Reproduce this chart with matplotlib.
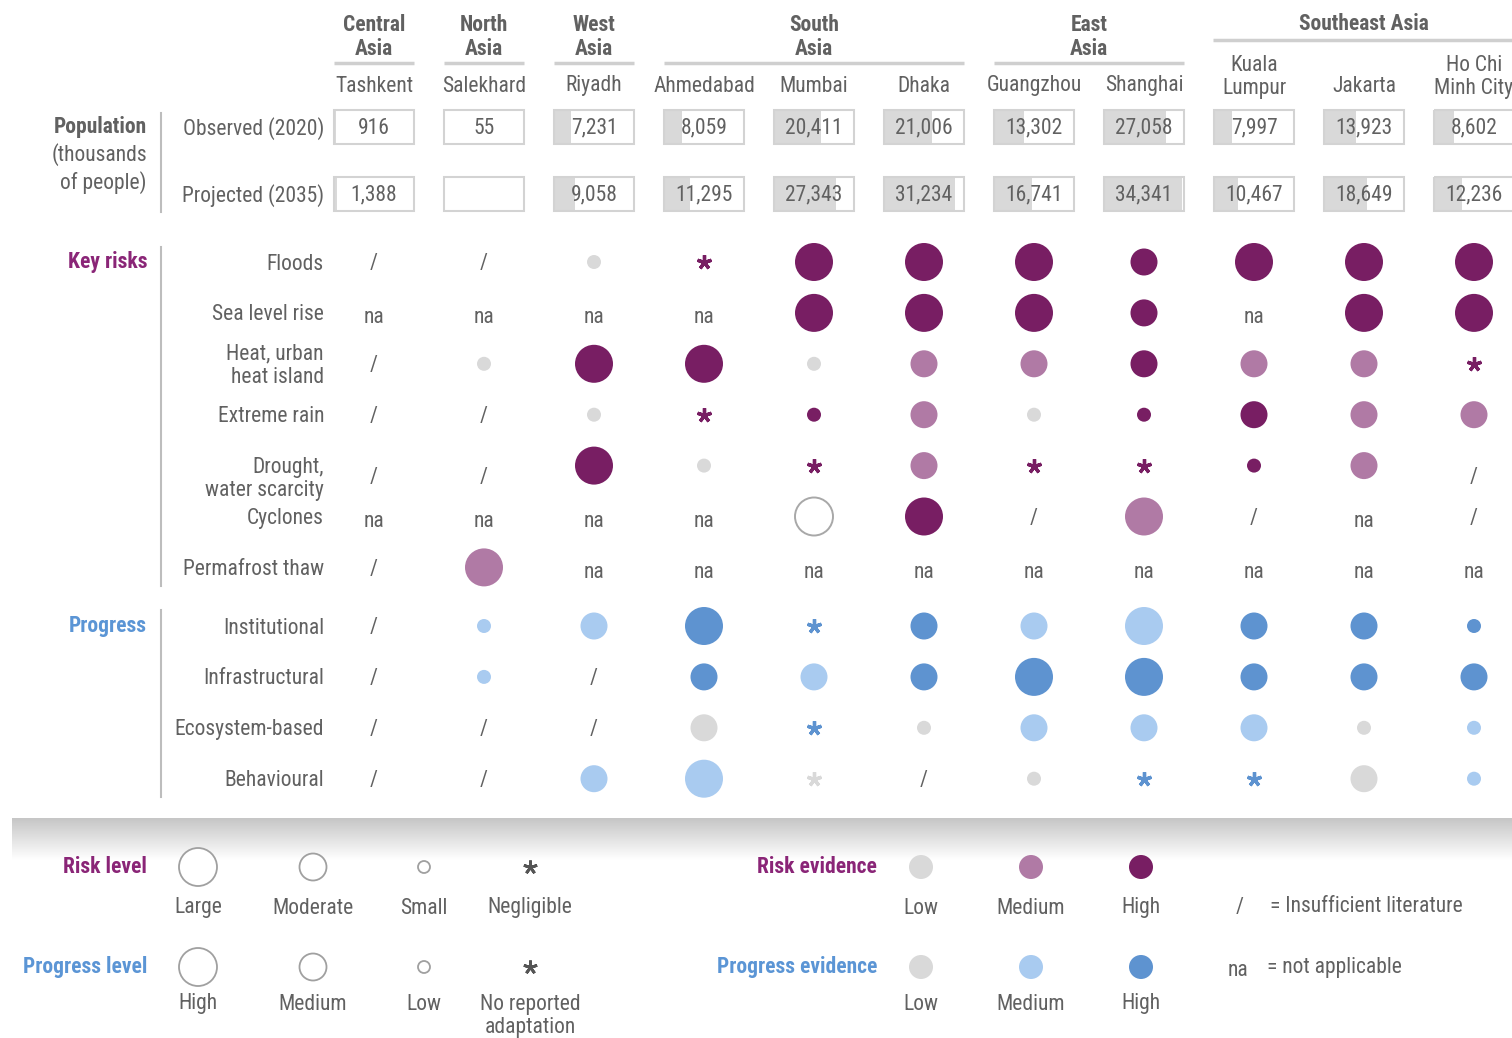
import matplotlib
matplotlib.use("Agg")
import numpy as np
import matplotlib.pyplot as plt
from matplotlib.patches import Circle, Rectangle
from matplotlib.colors import LinearSegmentedColormap

plt.rcParams["font.family"] = ["Roboto Condensed", "DejaVu Sans"]

# ─── Data ─────────────────────────────────────────────────────────────────────

CITIES = ["Tashkent", "Salekhard", "Riyadh", "Ahmedabad", "Mumbai", "Dhaka",
          "Guangzhou", "Shanghai", "Kuala\nLumpur", "Jakarta", "Ho Chi\nMinh City"]
REGIONS = [("Central\nAsia", 0, 0), ("North\nAsia", 1, 1), ("West\nAsia", 2, 2),
           ("South\nAsia", 3, 5), ("East\nAsia", 6, 7), ("Southeast Asia", 8, 10)]

POP_2020 = [916, 55, 7231, 8059, 20411, 21006, 13302, 27058, 7997, 13923, 8602]
POP_2035 = [1388, None, 9058, 11295, 27343, 31234, 16741, 34341, 10467, 18649, 12236]
POP_MAX = 35000

# cell codes: level (L large, M moderate, S small, N negligible/none, O open large)
# + evidence (l low, m medium, h high); "/" insufficient literature, "na" not applicable
RISK_LABELS = ["Floods", "Sea level rise", "Heat, urban\nheat island", "Extreme rain",
               "Drought,\nwater scarcity", "Cyclones", "Permafrost thaw"]
floods      = ["/", "/", "Sl", "Nh", "Lh", "Lh", "Lh", "Mh", "Lh", "Lh", "Lh"]
sea_level   = ["na", "na", "na", "na", "Lh", "Lh", "Lh", "Mh", "na", "Lh", "Lh"]
heat        = ["/", "Sl", "Lh", "Lh", "Sl", "Mm", "Mm", "Mh", "Mm", "Mm", "Nh"]
extreme     = ["/", "/", "Sl", "Nh", "Sh", "Mm", "Sl", "Sh", "Mh", "Mm", "Mm"]
drought     = ["/", "/", "Lh", "Sl", "Nh", "Mm", "Nh", "Nh", "Sh", "Mm", "/"]
cyclones    = ["na", "na", "na", "na", "Ol", "Lh", "/", "Lm", "/", "na", "/"]
permafrost  = ["/", "Lm", "na", "na", "na", "na", "na", "na", "na", "na", "na"]
RISKS = [floods, sea_level, heat, extreme, drought, cyclones, permafrost]

PROG_LABELS = ["Institutional", "Infrastructural", "Ecosystem-based", "Behavioural"]
institutional   = ["/", "Sm", "Mm", "Lh", "Nh", "Mh", "Mm", "Lm", "Mh", "Mh", "Sh"]
infrastructural = ["/", "Sm", "/", "Mh", "Mm", "Mh", "Lh", "Lh", "Mh", "Mh", "Mh"]
ecosystem       = ["/", "/", "/", "Ml", "Nh", "Sl", "Mm", "Mm", "Mm", "Sl", "Sm"]
behavioural     = ["/", "/", "Mm", "Lm", "Nl", "/", "Sl", "Nh", "Nh", "Ml", "Sm"]
PROGRESS = [institutional, infrastructural, ecosystem, behavioural]

# ─── Style ────────────────────────────────────────────────────────────────────

GREY_TXT = "#616161"
LOW = "#d9d9d9"
RISK_COL = {"l": LOW, "m": "#b07aa5", "h": "#781e63"}
PROG_COL = {"l": LOW, "m": "#a9cbf0", "h": "#5e93d0"}
RISK_HEAD = "#8a2577"
PROG_HEAD = "#5b95d5"
RADIUS = {"L": 19, "O": 19, "M": 13.5, "S": 7}
FS = 15.5
TXT_DY = 2  # glyph boxes sit a little high when centred

X0, DX = 374, 110
POP_Y = [127, 194]
RISK_Y0, PROG_Y0, ROW_DY = 262, 626, 50.9
LABEL_X = 324
HEAD_X = 147

fig = plt.figure(figsize=(15.12, 10.38), dpi=100)
ax = fig.add_axes([0, 0, 1, 1])
ax.set_xlim(0, 1512)
ax.set_ylim(1038, 0)
ax.axis("off")


def col_x(i):
    return X0 + i * DX


def txt(x, y, s, **kw):
    kw.setdefault("color", GREY_TXT)
    kw.setdefault("fontsize", FS)
    kw.setdefault("ha", "center")
    kw.setdefault("va", "center")
    ax.text(x, y + TXT_DY, s, linespacing=1.12, **kw)


def draw_cell(x, y, code, colors, text_dy=0):
    if code == "/":
        txt(x, y + text_dy, "/")
        return
    if code == "na":
        txt(x, y + 3 + text_dy, "na")
        return
    lvl, ev = code[0], code[1]
    if lvl == "N":
        ax.plot(x, y, marker=(5, 2, 0), ms=10.5, mew=2.4, color=colors[ev])
    elif lvl == "O":
        ax.add_patch(Circle((x, y), RADIUS[lvl], facecolor="white",
                            edgecolor="#a8a8a8", lw=1.4))
    else:
        ax.add_patch(Circle((x, y), RADIUS[lvl], facecolor=colors[ev], edgecolor="none"))


# ─── Header ───────────────────────────────────────────────────────────────────

for name, a, b in REGIONS:
    xa, xb = col_x(a) - 40, col_x(b) + 40
    xm = (xa + xb) / 2
    if "\n" in name:
        txt(xm, 35, name, fontweight="bold")
        ax.plot([xa, xb], [63, 63], color="#cfcfcf", lw=2.5, solid_capstyle="butt")
    else:
        txt(xm, 22, name, fontweight="bold")
        ax.plot([xa - 1, xb + 40], [40, 40], color="#cfcfcf", lw=2.5, solid_capstyle="butt")

for i, c in enumerate(CITIES):
    txt(col_x(i), 75 if "\n" in c else 84, c)

# ─── Population ───────────────────────────────────────────────────────────────

txt(HEAD_X, 125, "Population", ha="right", fontweight="bold")
txt(HEAD_X, 153, "(thousands", ha="right")
txt(HEAD_X, 181, "of people)", ha="right")
ax.plot([161, 161], [113, 212], color="#bdbdbd", lw=1.5)
txt(LABEL_X, POP_Y[0], "Observed (2020)", ha="right")
txt(LABEL_X, POP_Y[1], "Projected (2035)", ha="right")

BW, BH = 80, 34
for y, vals in zip(POP_Y, [POP_2020, POP_2035]):
    for i, v in enumerate(vals):
        x = col_x(i)
        if v is not None:
            ax.add_patch(Rectangle((x - BW / 2, y - BH / 2), BW * v / POP_MAX, BH,
                                   facecolor=LOW, edgecolor="none"))
            txt(x, y - 1, f"{v:,}")
        ax.add_patch(Rectangle((x - BW / 2, y - BH / 2), BW, BH, facecolor="none",
                               edgecolor="#d3d3d3", lw=1.5))

# ─── Key risks ────────────────────────────────────────────────────────────────

txt(HEAD_X, 260, "Key risks", ha="right", fontweight="bold", color=RISK_HEAD)
ax.plot([161, 161], [247, 586], color="#bdbdbd", lw=1.5)
for r, (lab, row) in enumerate(zip(RISK_LABELS, RISKS)):
    y = RISK_Y0 + r * ROW_DY
    is_drought = lab.startswith("Drought")
    txt(LABEL_X, y + 11 if is_drought else y, lab, ha="right")
    for i, code in enumerate(row):
        draw_cell(col_x(i), y, code, RISK_COL, text_dy=10 if is_drought else 0)

# ─── Progress ─────────────────────────────────────────────────────────────────

txt(HEAD_X, 624, "Progress", ha="right", fontweight="bold", color=PROG_HEAD)
ax.plot([161, 161], [610, 797], color="#bdbdbd", lw=1.5)
for r, (lab, row) in enumerate(zip(PROG_LABELS, PROGRESS)):
    y = PROG_Y0 + r * ROW_DY
    txt(LABEL_X, y, lab, ha="right")
    for i, code in enumerate(row):
        draw_cell(col_x(i), y, code, PROG_COL)

# ─── Separator shadow ─────────────────────────────────────────────────────────

shade = LinearSegmentedColormap.from_list("shade", ["#c6c6c6", "#ffffff"])
ax.imshow(np.linspace(0, 1, 60)[:, None], cmap=shade, aspect="auto",
          extent=[12, 1512, 860, 818], zorder=0)
ax.set_xlim(0, 1512)
ax.set_ylim(1038, 0)

# ─── Legend ───────────────────────────────────────────────────────────────────

LEG_Y = [867, 967]
LEG_LAB_Y = [906, 1002]
LEVEL_X = [198, 313, 424, 530]
EVID_X = [921, 1031, 1141]
RISK_LEVELS = ["Large", "Moderate", "Small", "Negligible"]
PROG_LEVELS = ["High", "Medium", "Low", "No reported\nadaptation"]
EVID_LEVELS = ["Low", "Medium", "High"]

for y, ly, head, col, levels in [
        (LEG_Y[0], LEG_LAB_Y[0], "Risk level", RISK_HEAD, RISK_LEVELS),
        (LEG_Y[1], LEG_LAB_Y[1], "Progress level", PROG_HEAD, PROG_LEVELS)]:
    txt(HEAD_X, y - 2, head, ha="right", fontweight="bold", color=col)
    for x, lvl, lab in zip(LEVEL_X, ["L", "M", "S", "N"], levels):
        if lvl == "N":
            ax.plot(x, y, marker=(5, 2, 0), ms=10, mew=2.0, color="#555555")
        else:
            ax.add_patch(Circle((x, y), RADIUS[lvl] - (1 if lvl == "S" else 0),
                                facecolor="white", edgecolor="#a0a0a0", lw=1.3))
        txt(x, ly + (12 if "\n" in lab else 0), lab)

for y, ly, head, col, cmap in [
        (LEG_Y[0], LEG_LAB_Y[0], "Risk evidence", RISK_HEAD, RISK_COL),
        (LEG_Y[1], LEG_LAB_Y[1], "Progress evidence", PROG_HEAD, PROG_COL)]:
    txt(877, y - 2, head, ha="right", fontweight="bold", color=col)
    for x, ev, lab in zip(EVID_X, ["l", "m", "h"], EVID_LEVELS):
        ax.add_patch(Circle((x, y), 12, facecolor=cmap[ev], edgecolor="none"))
        txt(x, ly, lab)

txt(1240, 905, "/")
txt(1270, 905, "= Insufficient literature", ha="left")
txt(1238, 969, "na")
txt(1267, 966, "= not applicable", ha="left")

fig.savefig("out.png", dpi=100, facecolor="white")
